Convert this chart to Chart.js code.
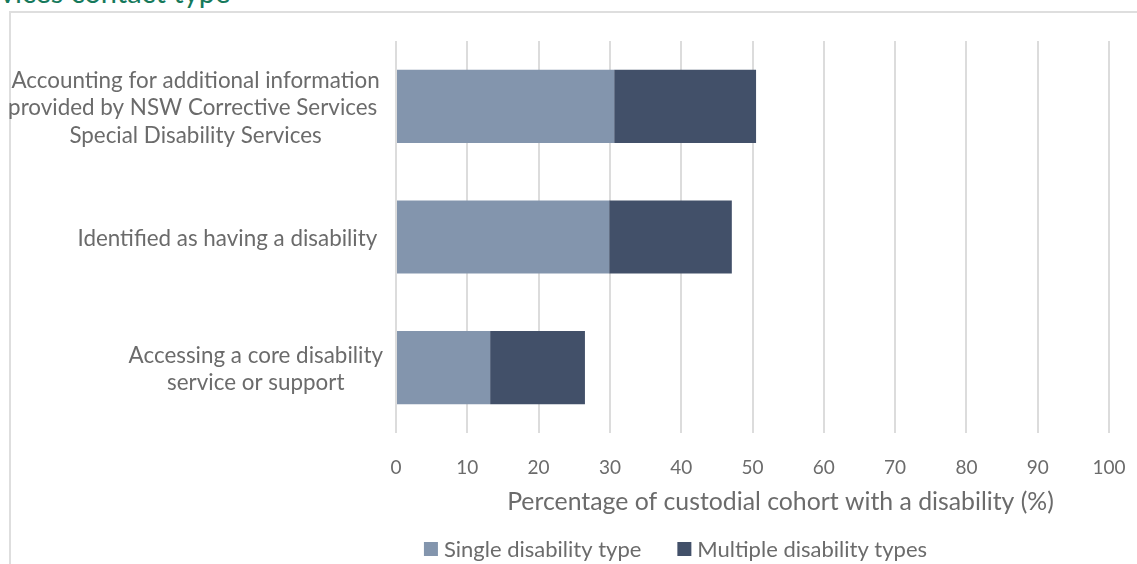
<!DOCTYPE html>
<html>
<head>
<meta charset="utf-8">
<script src="https://cdn.jsdelivr.net/npm/chart.js@4"></script>
<style>
  html, body { margin: 0; padding: 0; background: #fff; overflow: hidden; }
  #wrap { position: relative; width: 1137px; height: 564px; }
  #heading {
    position: absolute; left: 0; top: -26px;
    font-family: "Lato", sans-serif; font-size: 29px; color: #16795b;
    white-space: nowrap;
  }
  #frame {
    position: absolute; left: 9px; top: 11px; width: 1140px; height: 600px;
    border: 2px solid #dedede; box-sizing: border-box;
  }
  #chartBox { position: absolute; left: 0; top: 0; width: 1137px; height: 564px; }
</style>
</head>
<body>
<div id="wrap">
  <div id="heading">vices contact type</div>
  <div id="frame"></div>
  <div id="chartBox"><canvas id="grafico"></canvas></div>
</div>
<script>
const categorias = [
  ["Accounting for additional information", "provided by NSW Corrective Services ", "Special Disability Services"],
  ["Identified as having a disability "],
  ["Accessing a core disability", "service or support"]
];
const unTipo = [30.6, 29.9, 13.2];
const variosTipos = [19.9, 17.2, 13.3];
const series = ["Single disability type", "Multiple disability types"];
const colores = ["#8395ad", "#425069"];
const ticksX = [0, 10, 20, 30, 40, 50, 60, 70, 80, 90, 100];
const tituloX = "Percentage of custodial cohort with a disability (%)";

const FUENTE = "Lato, sans-serif";
const GRIS_TEXTO = "#6b6b6b";

// Etiquetas de categoria: bloque alineado a la derecha, lineas centradas entre si
const etiquetasCategoria = {
  id: "etiquetasCategoria",
  afterDraw(chart) {
    const ctx = chart.ctx;
    const y = chart.scales.y;
    const derecha = y.right - 13;
    const alto = 27.5;
    ctx.save();
    ctx.font = "22.4px " + FUENTE;
    ctx.fillStyle = GRIS_TEXTO;
    ctx.textAlign = "center";
    ctx.textBaseline = "middle";
    categorias.forEach((lineas, i) => {
      const cy = y.getPixelForTick(i) + 1.5;
      const ancho = Math.max(...lineas.map(l => ctx.measureText(l).width));
      const cx = derecha - ancho / 2;
      const inicio = cy - (lineas.length - 1) * alto / 2;
      lineas.forEach((l, k) => ctx.fillText(l, cx, inicio + k * alto));
    });
    ctx.restore();
  }
};

// Titulo del eje X y leyenda debajo del area del grafico
const tituloYLeyenda = {
  id: "tituloYLeyenda",
  afterDraw(chart) {
    const ctx = chart.ctx;
    const area = chart.chartArea;
    const centro = (area.left + area.right) / 2;
    ctx.save();
    ctx.fillStyle = GRIS_TEXTO;
    ctx.textBaseline = "middle";
    ctx.textAlign = "center";
    ctx.font = "24.8px " + FUENTE;
    ctx.fillText(tituloX, centro + 28, area.bottom + 69);

    ctx.font = "22px " + FUENTE;
    ctx.textAlign = "left";
    const caja = 14, hueco = 6, separacion = 36;
    const items = chart.data.datasets.map(d => ({
      texto: d.label, color: d.backgroundColor,
      ancho: caja + hueco + ctx.measureText(d.label).width
    }));
    const total = items.reduce((s, it) => s + it.ancho, 0) + separacion * (items.length - 1);
    let x = centro - 77 - total / 2;
    const yl = area.bottom + 116;
    items.forEach(it => {
      ctx.fillStyle = it.color;
      ctx.fillRect(x, yl - caja / 2, caja, caja);
      ctx.fillStyle = GRIS_TEXTO;
      ctx.fillText(it.texto, x + caja + hueco, yl + 1);
      x += it.ancho + separacion;
    });
    ctx.restore();
  }
};

const ctx = document.getElementById("grafico").getContext("2d");
new Chart(ctx, {
  type: "bar",
  data: {
    labels: categorias.map(c => c.join(" ")),
    datasets: series.map((s, i) => ({
      label: s,
      data: i === 0 ? unTipo : variosTipos,
      backgroundColor: colores[i]
    }))
  },
  options: {
    indexAxis: "y",
    responsive: true,
    maintainAspectRatio: false,
    animation: false,
    devicePixelRatio: 1,
    categoryPercentage: 1,
    barPercentage: 0.56,
    layout: { padding: { top: 41, right: 28, bottom: 71, left: 0 } },
    scales: {
      x: {
        stacked: true,
        min: 0,
        max: 100,
        afterBuildTicks: s => { s.ticks = ticksX.map(v => ({ value: v })); },
        afterFit: s => { s.height = 60; s.paddingLeft = 0; s.paddingRight = 0; },
        grid: { color: "#dcdcdc", lineWidth: 2, drawTicks: false },
        border: { display: false },
        ticks: { color: GRIS_TEXTO, font: { family: FUENTE, size: 19 }, padding: 23 }
      },
      y: {
        stacked: true,
        grid: { display: false },
        border: { display: false },
        ticks: { display: false },
        afterFit: s => { s.width = 396; }
      }
    },
    plugins: {
      legend: { display: false },
      tooltip: { enabled: false }
    }
  },
  plugins: [etiquetasCategoria, tituloYLeyenda]
});
</script>
</body>
</html>
